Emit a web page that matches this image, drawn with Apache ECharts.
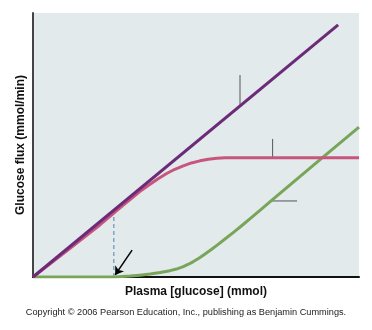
<!DOCTYPE html>
<html>
<head>
<meta charset="utf-8">
<script src="https://cdn.jsdelivr.net/npm/echarts@6/dist/echarts.min.js"></script>
<style>
html,body{margin:0;padding:0;background:#fff;}
#chart{width:372px;height:330px;}
</style>
</head>
<body>
<div id="chart"></div>
<script>
// Data (arbitrary units: x = plasma glucose, y = glucose flux)
var filtered = [[0, 0], [93.6, 95.5]];
var reabsorbed = [[0, 0], [10, 9.5], [20.6, 19.8], [24.6, 24.0], [27.5, 27.0], [30.8, 30.4], [33.3, 32.9], [35.9, 35.1], [38.5, 37.3], [41.0, 39.2], [43.5, 40.8], [46.1, 42.1], [48.6, 43.2], [51.2, 44.0], [53.8, 44.6], [56.4, 44.95], [59, 45.15], [61.4, 45.2], [100, 45.2]];
var excreted = [[0, 0], [25, 0], [27.5, 0.15], [29.8, 0.35], [32.8, 0.7], [35.9, 1.1], [39, 1.7], [42.0, 2.4], [44, 3.0], [46.1, 3.95], [47.7, 4.85], [49.2, 5.85], [51, 7.2], [53, 8.9], [54.7, 10.4], [56.4, 12.0], [58.9, 14.4], [61.4, 16.8], [64, 19.4], [66.6, 22.1], [69.8, 25.4], [73.2, 29.0], [88.6, 45.0], [100, 56.8]];
var thresholdLine = [[24.8, 0], [24.8, 24.5]];
var filteredTick = [[63.5, 65.2], [63.5, 76.5]];
var reabsorbedTick = [[73.5, 45.2], [73.5, 52.3]];
var excretedTick = [[73.2, 28.8], [81.0, 28.8]];
var arrowFrom = [30.4, 10.2];
var arrowTo = [25.2, 0.8];
var xTitle = 'Plasma [glucose] (mmol)';
var yTitle = 'Glucose flux (mmol/min)';
var credit = 'Copyright \u00a9 2006 Pearson Education, Inc., publishing as Benjamin Cummings.';

var chart = echarts.init(document.getElementById('chart'), null, {renderer: 'canvas'});
function tick(d) {
  return {type: 'line', data: d, symbol: 'none', silent: true, z: 1,
    lineStyle: {color: '#555', width: 1}};
}
chart.setOption({
  animation: false,
  grid: {left: 33, right: 13, top: 13, bottom: 53, show: true, backgroundColor: '#e2eaec', borderWidth: 0},
  xAxis: {
    type: 'value', min: 0, max: 100,
    name: xTitle, nameLocation: 'middle', nameGap: 9,
    nameTextStyle: {fontFamily: 'Liberation Sans', fontWeight: 'bold', fontSize: 12, color: '#111'},
    axisLine: {show: true, lineStyle: {color: '#111', width: 2}},
    axisTick: {show: false}, axisLabel: {show: false}, splitLine: {show: false}
  },
  yAxis: {
    type: 'value', min: 0, max: 100,
    name: yTitle, nameLocation: 'middle', nameGap: 6,
    nameTextStyle: {fontFamily: 'Liberation Sans', fontWeight: 'bold', fontSize: 12, color: '#111'},
    axisLine: {show: true, lineStyle: {color: '#444', width: 2}},
    axisTick: {show: false}, axisLabel: {show: false}, splitLine: {show: false}
  },
  graphic: [{
    type: 'text', left: 'center', top: 308,
    style: {text: credit, font: '9.2px "Liberation Sans"', fill: '#222'}
  }],
  series: [
    tick(filteredTick), tick(reabsorbedTick), tick(excretedTick),
    {type: 'line', data: thresholdLine, symbol: 'none', silent: true, z: 1,
     lineStyle: {color: '#4f83a8', width: 1, type: [4, 3]}},
    {type: 'line', data: excreted, symbol: 'none', z: 3,
     lineStyle: {color: '#78a55a', width: 3, join: 'round'}},
    {type: 'line', data: reabsorbed, symbol: 'none', z: 3,
     lineStyle: {color: '#c8557c', width: 3, join: 'round'}},
    {type: 'line', data: filtered, symbol: 'none', z: 4,
     lineStyle: {color: '#6b2b78', width: 3}},
    {type: 'line', data: [], symbol: 'none', z: 5,
     markLine: {silent: true, animation: false, symbolSize: 8,
       lineStyle: {color: '#000', width: 1.5, type: 'solid'}, label: {show: false},
       data: [[{coord: arrowFrom, symbol: 'none'}, {coord: arrowTo, symbol: 'arrow'}]]}}
  ]
});
</script>
</body>
</html>
